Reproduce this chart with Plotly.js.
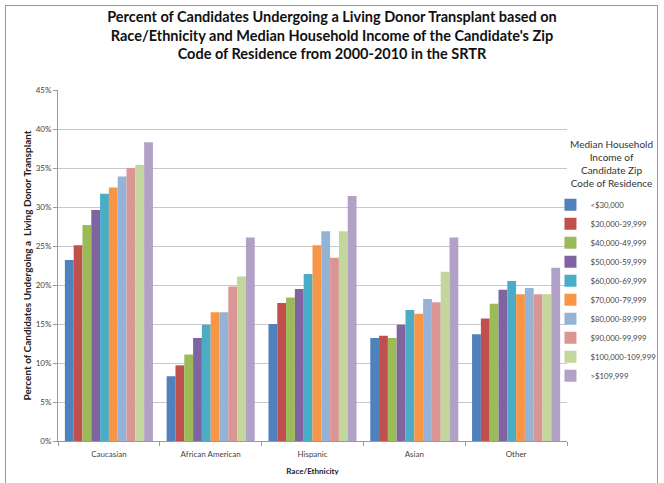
<!DOCTYPE html>
<html>
<head>
<meta charset="utf-8">
<script src="https://cdn.plot.ly/plotly-3.0.1.min.js"></script>
<style>
html,body{margin:0;padding:0;background:#fff;}
#chart{width:664px;height:483px;position:absolute;left:0;top:0;}
#frame{position:absolute;left:5px;top:5px;width:651px;height:482px;border:1px solid #9a9a9a;pointer-events:none;}
</style>
</head>
<body>
<div id="chart"></div>
<div id="frame"></div>
<script>
const categories = ["Caucasian", "African American", "Hispanic", "Asian", "Other"];
const seriesNames = ["<$30,000", "$30,000-39,999", "$40,000-49,999", "$50,000-59,999", "$60,000-69,999",
  "$70,000-79,999", "$80,000-89,999", "$90,000-99,999", "$100,000-109,999", ">$109,999"];
const colors = ["#4F81BD", "#C0504D", "#9BBB59", "#8064A2", "#4BACC6",
  "#F79646", "#95B3D7", "#D99694", "#C3D69B", "#B2A1C7"];
// values in percent, per series across categories
const lt30k     = [23.2, 8.3, 15.0, 13.2, 13.7];
const k30_39    = [25.1, 9.7, 17.7, 13.5, 15.7];
const k40_49    = [27.7, 11.1, 18.4, 13.2, 17.6];
const k50_59    = [29.6, 13.2, 19.5, 14.9, 19.4];
const k60_69    = [31.7, 14.9, 21.4, 16.8, 20.5];
const k70_79    = [32.5, 16.5, 25.1, 16.3, 18.8];
const k80_89    = [33.9, 16.5, 26.9, 18.2, 19.6];
const k90_99    = [35.0, 19.8, 23.5, 17.8, 18.8];
const k100_109  = [35.4, 21.1, 26.9, 21.7, 18.8];
const gt109k    = [38.3, 26.1, 31.4, 26.1, 22.2];
const seriesValues = [lt30k, k30_39, k40_49, k50_59, k60_69, k70_79, k80_89, k90_99, k100_109, gt109k];
const yTickVals = [0, 5, 10, 15, 20, 25, 30, 35, 40, 45];
const yTickText = ["0%", "5%", "10%", "15%", "20%", "25%", "30%", "35%", "40%", "45%"];
const legendTitle = "Median Household<br>Income of<br>Candidate Zip<br>Code of Residence";

const font = "Lato, 'Open Sans', sans-serif";
const traces = seriesValues.map((vals, i) => ({
  type: "bar",
  name: seriesNames[i],
  x: categories,
  y: vals,
  marker: {color: colors[i]},
  hoverinfo: "none"
}));

const layout = {
  width: 664, height: 483,
  margin: {l: 58, r: 97, t: 90, b: 42, autoexpand: false},
  paper_bgcolor: "#fff", plot_bgcolor: "#fff",
  barmode: "group",
  bargap: 0.135,
  bargroupgap: 0,
  font: {family: font, size: 8, color: "#555"},
  title: {
    text: "<b>Percent of Candidates Undergoing a Living Donor Transplant based on<br>Race/Ethnicity and Median Household Income of the Candidate's Zip<br>Code of Residence from 2000-2010 in the SRTR</b>",
    font: {family: font, size: 14.5, color: "#111"},
    x: 0.5, xanchor: "center", xref: "container",
    y: 0.955, yanchor: "middle", yref: "container"
  },
  xaxis: {
    type: "category",
    automargin: false,
    showline: true, linecolor: "#999", linewidth: 1,
    ticks: "outside", tickson: "boundaries", ticklen: 4, tickcolor: "#999",
    ticklabelstandoff: 5,
    tickfont: {family: font, size: 8, color: "#444"},
    showgrid: false,
    title: {text: "<b>Race/Ethnicity</b>", font: {family: font, size: 8, color: "#222"}, standoff: 10}
  },
  yaxis: {
    range: [0, 45],
    automargin: false,
    tickvals: yTickVals, ticktext: yTickText,
    showline: true, linecolor: "#999", linewidth: 1,
    ticks: "outside", ticklen: 4, tickcolor: "#999",
    showgrid: true, gridcolor: "#c8c8c8", gridwidth: 1,
    zeroline: false,
    tickfont: {family: font, size: 8, color: "#444"},
    title: {text: "<b>Percent of Candidates Undergoing a  Living Donor Transplant</b>", font: {family: font, size: 10, color: "#222"}, standoff: 2}
  },
  legend: {
    xref: "container", yref: "container",
    x: 0.829, xanchor: "left",
    y: 0.606, yanchor: "top",
    font: {family: font, size: 7.8, color: "#444"},
    itemwidth: 30,
    tracegroupgap: 0,
    bgcolor: "rgba(0,0,0,0)"
  },
  annotations: [{
    text: legendTitle,
    xref: "paper", yref: "paper",
    x: 1.088, y: 0.792, xanchor: "center", yanchor: "middle",
    showarrow: false, align: "center",
    font: {family: font, size: 10, color: "#333"}
  }],
  showlegend: true
};

Plotly.newPlot("chart", traces, layout, {displayModeBar: false, staticPlot: true});
</script>
</body>
</html>
